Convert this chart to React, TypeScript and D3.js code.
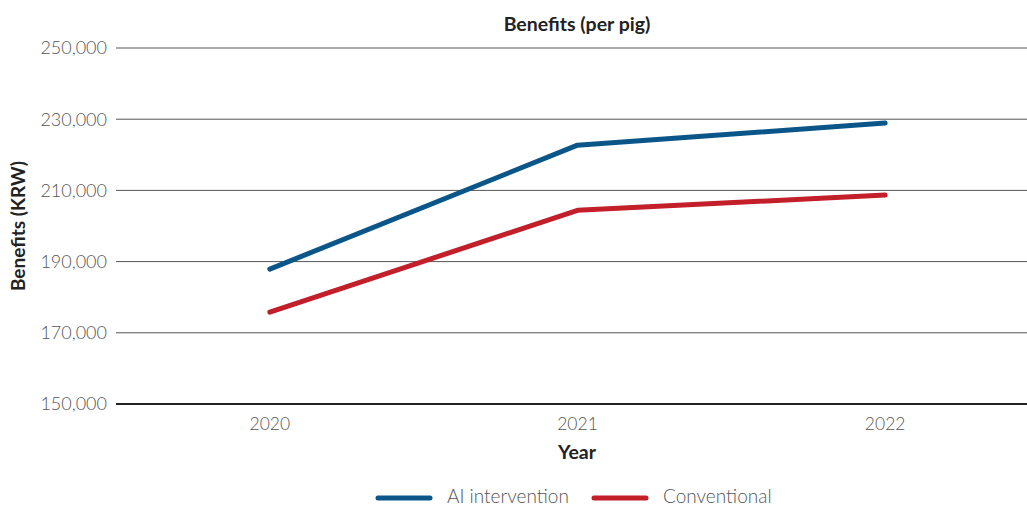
import React from "react";
import * as d3 from "d3";

const years = ["2020", "2021", "2022"];
const aiIntervention = [187900, 222700, 228900];
const conventional = [175800, 204400, 208700];
const yTicks = [150000, 170000, 190000, 210000, 230000, 250000];
const seriesNames = ["AI intervention", "Conventional"];
const seriesColors = ["#0b5689", "#c21f2a"];

const W = 1027;
const H = 506;

export default function App() {
  const x = d3.scalePoint<string>().domain(years).range([116, 1039]).padding(0.5);
  const y = d3.scaleLinear().domain([150000, 250000]).range([404, 48]);
  const line = d3
    .line<number>()
    .x((_, i) => x(years[i]) as number)
    .y((d) => y(d));
  const fmt = d3.format(",");
  const font = "Lato, 'Source Sans Pro', 'Noto Sans', sans-serif";
  const series = [aiIntervention, conventional];

  return (
    <svg
      width={W}
      height={H}
      style={{ position: "absolute", left: 0, top: 0, fontFamily: font }}
    >
      <rect width={W} height={H} fill="#fff" />
      <text x={577} y={31} textAnchor="middle" fontSize={19.5} fontWeight={700} fill="#222">
        Benefits (per pig)
      </text>
      {yTicks.map((t) => (
        <g key={t}>
          <line
            x1={116}
            x2={W}
            y1={y(t)}
            y2={y(t)}
            stroke={t === 150000 ? "#222" : "#555"}
            strokeWidth={t === 150000 ? 2 : 1}
          />
          <text
            x={107}
            y={y(t)}
            dy="0.35em"
            textAnchor="end"
            fontSize={18}
            fontWeight={300}
            fill="#555"
          >
            {fmt(t)}
          </text>
        </g>
      ))}
      {years.map((yr) => (
        <text
          key={yr}
          x={x(yr) as number}
          y={430}
          textAnchor="middle"
          fontSize={17.5}
          fontWeight={300}
          fill="#555"
        >
          {yr}
        </text>
      ))}
      <text x={577} y={459} textAnchor="middle" fontSize={19.5} fontWeight={700} fill="#222">
        Year
      </text>
      <text
        transform="translate(25,226) rotate(-90)"
        textAnchor="middle"
        fontSize={19}
        fontWeight={700}
        fill="#222"
      >
        Benefits (KRW)
      </text>
      {series.map((s, i) => (
        <path
          key={i}
          d={line(s) as string}
          fill="none"
          stroke={seriesColors[i]}
          strokeWidth={5}
          strokeLinecap="round"
          strokeLinejoin="round"
        />
      ))}
      {seriesNames.map((n, i) => {
        const x0 = i === 0 ? 378 : 594;
        return (
          <g key={n}>
            <line
              x1={x0}
              x2={x0 + 52}
              y1={498}
              y2={498}
              stroke={seriesColors[i]}
              strokeWidth={5}
              strokeLinecap="round"
            />
            <text x={x0 + 69} y={503} fontSize={19} fontWeight={300} fill="#555">
              {n}
            </text>
          </g>
        );
      })}
    </svg>
  );
}
